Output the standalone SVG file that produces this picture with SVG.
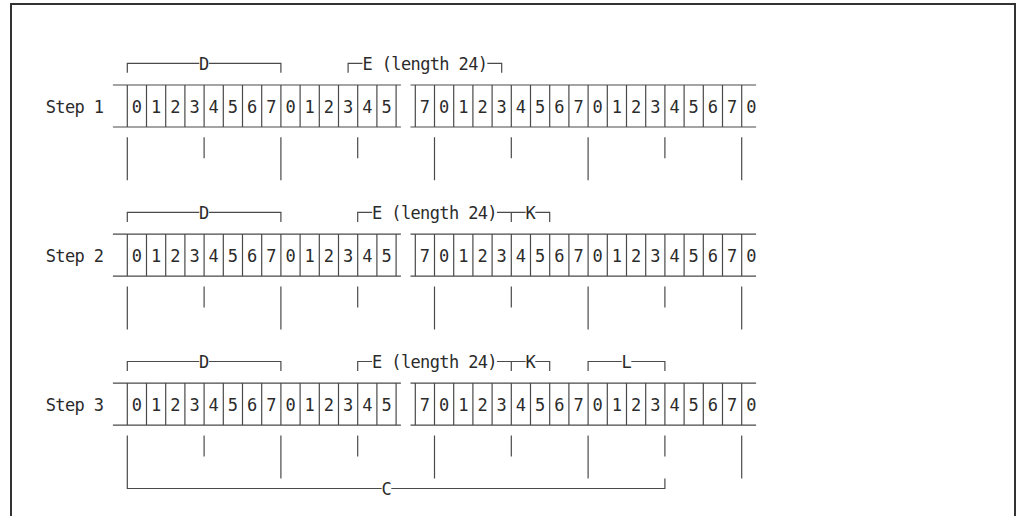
<svg xmlns="http://www.w3.org/2000/svg" width="1016" height="516" viewBox="0 0 1016 516">
<style>
.frame{fill:none;stroke:#333;stroke-width:2}
.ln{fill:none;stroke:#4a4a4a;stroke-width:1.2}
.t{font-family:"DejaVu Sans Mono","Liberation Mono",monospace;font-size:17px;fill:#2b2b2b;letter-spacing:-0.63px}
.m{text-anchor:middle;letter-spacing:0}
</style>
<rect width="1016" height="516" fill="#fff"/>
<path class="frame" d="M11,516V4H1015V516"/>

<g id="step1" transform="translate(0,63.3)">
  <text class="t" x="45.7" y="49.5">Step 1</text>
  <g id="step1-cells">
    <path class="ln" d="M112.9,21.7H400.9M410.5,21.7H756.1M112.9,63.7H400.9M410.5,63.7H756.1M127.3,21.7V63.7M146.5,21.7V63.7M165.7,21.7V63.7M184.9,21.7V63.7M204.1,21.7V63.7M223.3,21.7V63.7M242.5,21.7V63.7M261.7,21.7V63.7M280.9,21.7V63.7M300.1,21.7V63.7M319.3,21.7V63.7M338.5,21.7V63.7M357.7,21.7V63.7M376.9,21.7V63.7M396.1,21.7V63.7M415.3,21.7V63.7M434.5,21.7V63.7M453.7,21.7V63.7M472.9,21.7V63.7M492.1,21.7V63.7M511.3,21.7V63.7M530.5,21.7V63.7M549.7,21.7V63.7M568.9,21.7V63.7M588.1,21.7V63.7M607.3,21.7V63.7M626.5,21.7V63.7M645.7,21.7V63.7M664.9,21.7V63.7M684.1,21.7V63.7M703.3,21.7V63.7M722.5,21.7V63.7M741.7,21.7V63.7"/>
    <text class="t m" x="136.9 156.1 175.3 194.5 213.7 232.9 252.1 271.3 290.5 309.7 328.9 348.1 367.3 386.5" y="49.5">01234567012345</text>
    <text class="t m" x="424.9 444.1 463.3 482.5 501.7 520.9 540.1 559.3 578.5 597.7 616.9 636.1 655.3 674.5 693.7 712.9 732.1 751.3" y="49.5">701234567012345670</text>
  </g>
  <g id="step1-brackets">
    <path class="ln" d="M127.3,9.5V0H199.3M208.9,0H280.9V9.5"/>
    <text class="t m" x="204.1" y="6.2">D</text>
    <path class="ln" d="M348.1,9.5V0H362.5M487.3,0H501.7V9.5"/>
    <text class="t" x="362.5" y="6.2">E (length 24)</text>
  </g>
  <path class="ln" d="M204.1,74V95M357.7,74V95M511.3,74V95M664.9,74V95M127.3,74V117M280.9,74V117M434.5,74V117M588.1,74V117M741.7,74V117"/>
</g>

<g id="step2" transform="translate(0,212.4)">
  <text class="t" x="45.7" y="49.5">Step 2</text>
  <g id="step2-cells">
    <path class="ln" d="M112.9,21.7H400.9M410.5,21.7H756.1M112.9,63.7H400.9M410.5,63.7H756.1M127.3,21.7V63.7M146.5,21.7V63.7M165.7,21.7V63.7M184.9,21.7V63.7M204.1,21.7V63.7M223.3,21.7V63.7M242.5,21.7V63.7M261.7,21.7V63.7M280.9,21.7V63.7M300.1,21.7V63.7M319.3,21.7V63.7M338.5,21.7V63.7M357.7,21.7V63.7M376.9,21.7V63.7M396.1,21.7V63.7M415.3,21.7V63.7M434.5,21.7V63.7M453.7,21.7V63.7M472.9,21.7V63.7M492.1,21.7V63.7M511.3,21.7V63.7M530.5,21.7V63.7M549.7,21.7V63.7M568.9,21.7V63.7M588.1,21.7V63.7M607.3,21.7V63.7M626.5,21.7V63.7M645.7,21.7V63.7M664.9,21.7V63.7M684.1,21.7V63.7M703.3,21.7V63.7M722.5,21.7V63.7M741.7,21.7V63.7"/>
    <text class="t m" x="136.9 156.1 175.3 194.5 213.7 232.9 252.1 271.3 290.5 309.7 328.9 348.1 367.3 386.5" y="49.5">01234567012345</text>
    <text class="t m" x="424.9 444.1 463.3 482.5 501.7 520.9 540.1 559.3 578.5 597.7 616.9 636.1 655.3 674.5 693.7 712.9 732.1 751.3" y="49.5">701234567012345670</text>
  </g>
  <g id="step2-brackets">
    <path class="ln" d="M127.3,9.5V0H199.3M208.9,0H280.9V9.5"/>
    <text class="t m" x="204.1" y="6.2">D</text>
    <path class="ln" d="M357.7,9.5V0H372.1M496.9,0H525.7M511.3,0V9.5M535.3,0H549.7V9.5"/>
    <text class="t" x="372.1" y="6.2">E (length 24)</text>
    <text class="t m" x="530.5" y="6.2">K</text>
  </g>
  <path class="ln" d="M204.1,74V95M357.7,74V95M511.3,74V95M664.9,74V95M127.3,74V117M280.9,74V117M434.5,74V117M588.1,74V117M741.7,74V117"/>
</g>

<g id="step3" transform="translate(0,361.5)">
  <text class="t" x="45.7" y="49.5">Step 3</text>
  <g id="step3-cells">
    <path class="ln" d="M112.9,21.7H400.9M410.5,21.7H756.1M112.9,63.7H400.9M410.5,63.7H756.1M127.3,21.7V63.7M146.5,21.7V63.7M165.7,21.7V63.7M184.9,21.7V63.7M204.1,21.7V63.7M223.3,21.7V63.7M242.5,21.7V63.7M261.7,21.7V63.7M280.9,21.7V63.7M300.1,21.7V63.7M319.3,21.7V63.7M338.5,21.7V63.7M357.7,21.7V63.7M376.9,21.7V63.7M396.1,21.7V63.7M415.3,21.7V63.7M434.5,21.7V63.7M453.7,21.7V63.7M472.9,21.7V63.7M492.1,21.7V63.7M511.3,21.7V63.7M530.5,21.7V63.7M549.7,21.7V63.7M568.9,21.7V63.7M588.1,21.7V63.7M607.3,21.7V63.7M626.5,21.7V63.7M645.7,21.7V63.7M664.9,21.7V63.7M684.1,21.7V63.7M703.3,21.7V63.7M722.5,21.7V63.7M741.7,21.7V63.7"/>
    <text class="t m" x="136.9 156.1 175.3 194.5 213.7 232.9 252.1 271.3 290.5 309.7 328.9 348.1 367.3 386.5" y="49.5">01234567012345</text>
    <text class="t m" x="424.9 444.1 463.3 482.5 501.7 520.9 540.1 559.3 578.5 597.7 616.9 636.1 655.3 674.5 693.7 712.9 732.1 751.3" y="49.5">701234567012345670</text>
  </g>
  <g id="step3-brackets">
    <path class="ln" d="M127.3,9.5V0H199.3M208.9,0H280.9V9.5"/>
    <text class="t m" x="204.1" y="6.2">D</text>
    <path class="ln" d="M357.7,9.5V0H372.1M496.9,0H525.7M511.3,0V9.5M535.3,0H549.7V9.5"/>
    <text class="t" x="372.1" y="6.2">E (length 24)</text>
    <text class="t m" x="530.5" y="6.2">K</text>
    <path class="ln" d="M588.1,9.5V0H621.7M631.3,0H664.9V9.5"/>
    <text class="t m" x="626.5" y="6.2">L</text>
  </g>
  <path class="ln" d="M204.1,74V95M357.7,74V95M511.3,74V95M664.9,74V95M280.9,74V117M434.5,74V117M588.1,74V117M741.7,74V117"/>
</g>

<g id="connectors" transform="translate(0,361.5)">
  <path class="ln" d="M127.3,74V127H381.7M391.3,127H664.9V117"/>
  <text class="t m" x="386.5" y="133.2">C</text>
</g>
</svg>
